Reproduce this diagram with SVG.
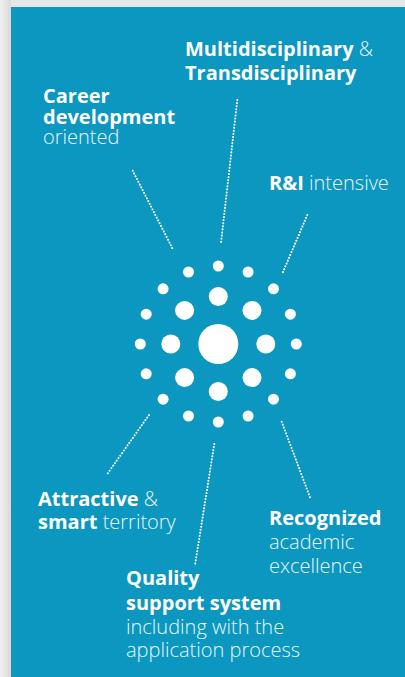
<svg xmlns="http://www.w3.org/2000/svg" width="405" height="677" viewBox="0 0 405 677">
  <style>
    text { font-family: "Open Sans", "Liberation Sans", sans-serif; font-size: 20px; fill: #ffffff; }
    .b { font-weight: 700; }
    .r { font-weight: 300; fill: #eaf6fa; }
    .conn line { stroke: #ffffff; stroke-width: 2; stroke-linecap: round; stroke-dasharray: 0.1 3; fill: none; }
    .dot { fill: #ffffff; }
  </style>
  <defs>
    <linearGradient id="frame" x1="0" y1="0" x2="1" y2="0">
      <stop offset="0" stop-color="#f0f0f0"/>
      <stop offset="1" stop-color="#d9d9d9"/>
    </linearGradient>
  </defs>
  <rect x="0" y="0" width="405" height="677" fill="#e6e6e6"/>
  <rect x="0" y="0" width="11" height="677" fill="url(#frame)"/>
  <rect x="11" y="7" width="394" height="670" fill="#0b97bf"/>

  <g id="connectors" class="conn">
    <line x1="237.3" y1="100" x2="221" y2="242.7"/>
    <line x1="132.7" y1="170.7" x2="173.3" y2="250"/>
    <line x1="307.3" y1="215" x2="282.7" y2="272.7"/>
    <line x1="149" y1="415" x2="107.3" y2="474"/>
    <line x1="214.3" y1="444" x2="195" y2="565"/>
    <line x1="281.7" y1="421.7" x2="311" y2="500"/>
  </g>

  <g id="hub" class="dot">
    <circle cx="218.3" cy="344" r="20"/>
    <circle cx="218.3" cy="296.5" r="9.5"/>
    <circle cx="252" cy="310.4" r="9.5"/>
    <circle cx="265.8" cy="344" r="9.5"/>
    <circle cx="252" cy="377.6" r="9.5"/>
    <circle cx="218.3" cy="391.5" r="9.5"/>
    <circle cx="184.6" cy="377.6" r="9.5"/>
    <circle cx="170.8" cy="344" r="9.5"/>
    <circle cx="184.6" cy="310.4" r="9.5"/>
    <circle cx="218.3" cy="266" r="5.5"/>
    <circle cx="248.1" cy="272" r="5.5"/>
    <circle cx="273.5" cy="288.8" r="5.5"/>
    <circle cx="290.4" cy="314.2" r="5.5"/>
    <circle cx="296.3" cy="344" r="5.5"/>
    <circle cx="290.4" cy="373.8" r="5.5"/>
    <circle cx="273.5" cy="399.2" r="5.5"/>
    <circle cx="248.1" cy="416" r="5.5"/>
    <circle cx="218.3" cy="422" r="5.5"/>
    <circle cx="188.5" cy="416" r="5.5"/>
    <circle cx="163.1" cy="399.2" r="5.5"/>
    <circle cx="146.2" cy="373.8" r="5.5"/>
    <circle cx="140.3" cy="344" r="5.5"/>
    <circle cx="146.2" cy="314.2" r="5.5"/>
    <circle cx="163.1" cy="288.8" r="5.5"/>
    <circle cx="188.5" cy="272" r="5.5"/>
  </g>

  <g id="multidisciplinary">
    <text x="185" y="56"><tspan class="b">Multidisciplinary</tspan><tspan class="r"> &amp;</tspan></text>
    <text x="185" y="79.5" class="b">Transdisciplinary</text>
  </g>
  <g id="career">
    <text x="43" y="103" class="b">Career</text>
    <text x="43" y="123.5" class="b">development</text>
    <text x="43" y="144" class="r">oriented</text>
  </g>
  <g id="ri">
    <text x="269" y="189.5"><tspan class="b">R&amp;I</tspan><tspan class="r"> intensive</tspan></text>
  </g>
  <g id="attractive">
    <text x="38" y="506"><tspan class="b">Attractive</tspan><tspan class="r"> &amp;</tspan></text>
    <text x="38" y="528.5"><tspan class="b">smart</tspan><tspan class="r"> territory</tspan></text>
  </g>
  <g id="recognized">
    <text x="269" y="525" class="b">Recognized</text>
    <text x="269" y="548.5" class="r">academic</text>
    <text x="269" y="573" class="r">excellence</text>
  </g>
  <g id="quality">
    <text x="126" y="585" class="b">Quality</text>
    <text x="126" y="610" class="b">support system</text>
    <text x="126" y="633.5" class="r">including with the</text>
    <text x="126" y="657" class="r">application process</text>
  </g>
</svg>
